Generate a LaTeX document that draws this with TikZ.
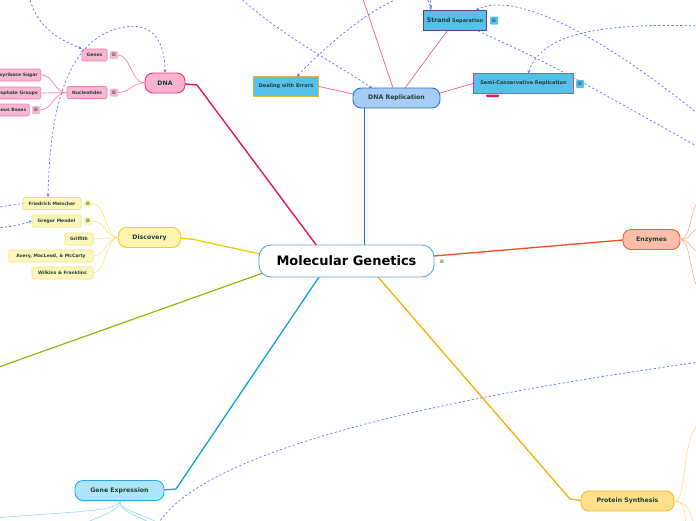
\documentclass[tikz,border=0pt]{standalone}
\usepackage{fontspec}
\setmainfont{DejaVu Sans}
\usetikzlibrary{arrows.meta}
\definecolor{tcol}{HTML}{1D3F33}
\definecolor{dnafill}{HTML}{F9B3D1}
\definecolor{dnadraw}{HTML}{E8336F}
\definecolor{dnaline}{HTML}{E5106A}
\definecolor{psubfill}{HTML}{FBB6D3}
\definecolor{psubdraw}{HTML}{F27FAE}
\definecolor{plight}{HTML}{F585B5}
\definecolor{repfill}{HTML}{A8CCF8}
\definecolor{repdraw}{HTML}{2A6FD6}
\definecolor{repline}{HTML}{1A6ED8}
\definecolor{cyanfill}{HTML}{56BFEA}
\definecolor{golddraw}{HTML}{D9B93B}
\definecolor{purpdraw}{HTML}{5B3C8F}
\definecolor{magdraw}{HTML}{D9428E}
\definecolor{repchild}{HTML}{EE5A92}
\definecolor{yfill}{HTML}{FFF5B0}
\definecolor{ydraw}{HTML}{F0D020}
\definecolor{yline}{HTML}{E8D000}
\definecolor{ysubfill}{HTML}{FFF6BC}
\definecolor{ysubdraw}{HTML}{F7E27F}
\definecolor{ylight}{HTML}{F9E98C}
\definecolor{efill}{HTML}{F9BFA8}
\definecolor{edraw}{HTML}{F06030}
\definecolor{eline}{HTML}{F05020}
\definecolor{elight}{HTML}{F9AE92}
\definecolor{gfill}{HTML}{B0E4F8}
\definecolor{gdraw}{HTML}{29ABE2}
\definecolor{gline}{HTML}{10A0E0}
\definecolor{glight}{HTML}{9FDCF5}
\definecolor{prfill}{HTML}{FEE08B}
\definecolor{prdraw}{HTML}{F6B820}
\definecolor{prline}{HTML}{F6B000}
\definecolor{prlight}{HTML}{FFDB8A}
\definecolor{grline}{HTML}{8DBA10}
\definecolor{centdraw}{HTML}{5AA5DD}
\definecolor{dashcol}{HTML}{5A78F0}
\begin{document}
\begin{tikzpicture}[x=1pt,y=-1pt,
  mainnode/.style={text=tcol, font=\bfseries\fontsize{6.2}{7}\selectfont, rounded corners=8pt, line width=0.9pt, inner sep=0pt, minimum height=20pt},
  subnode/.style={text=tcol, font=\bfseries\fontsize{4.5}{5}\selectfont, rounded corners=1.2pt, line width=0.6pt, inner xsep=3pt, inner ysep=0pt, minimum height=12pt},
  pinksub/.style={subnode, fill=psubfill, draw=psubdraw},
  yelsub/.style={subnode, fill=ysubfill, draw=ysubdraw},
  cyanbox/.style={text=tcol, font=\bfseries\fontsize{5}{5.5}\selectfont, fill=cyanfill, line width=1pt, inner sep=0pt, minimum height=20pt},
  menuicon/.style={fill=#1, rounded corners=1pt, minimum size=8pt, inner sep=0pt, text=tcol, font=\fontsize{6}{6}\selectfont},
  dashlink/.style={dashcol, line width=0.7pt, dash pattern=on 2.2pt off 2.2pt},
  tipd/.style={-{Stealth[length=3pt,width=3pt]}},
  tipb/.style={{Stealth[length=3pt,width=3pt]}-{Stealth[length=3pt,width=3pt]}},
]
\useasboundingbox (0,0) rectangle (696,520);
\clip (0,0) rectangle (696,520);
\fill[white] (0,0) rectangle (696,520);

% ---------- coordinates for free ends ----------
\coordinate (mgDNA) at (317,246);
\coordinate (dnaBend) at (197,85);
\coordinate (mgRep) at (364.5,246);
\coordinate (mgDisc) at (260,254);
\coordinate (discBend) at (194,239.5);
\coordinate (mgGreen) at (263,273);
\coordinate (offGreen) at (-4,368);
\coordinate (mgGene) at (319,277);
\coordinate (geneBend) at (176,489);
\coordinate (mgProt) at (378,277);
\coordinate (protBend) at (570,499);
\coordinate (mgEnz) at (434,256);
\coordinate (offPink) at (362,-4);
\coordinate (strandBR) at (478,31);
\coordinate (offR2) at (700,148);

% ---------- main connectors (drawn first) ----------
\draw[dnaline, line width=1.4pt, line join=round] (mgDNA) -- (dnaBend) -- (185,84);
\draw[repline, line width=1.3pt] (mgRep) -- (364.5,108);
\draw[yline, line width=1.3pt, line join=round] (mgDisc) -- (discBend) -- (180.5,238);
\draw[grline, line width=1.2pt] (mgGreen) -- (offGreen);
\draw[gline, line width=1.3pt, line join=round] (mgGene) -- (geneBend) -- (164,490);
\draw[prline, line width=1.3pt, line join=round] (mgProt) -- (protBend) -- (581,500.5);
\draw[eline, line width=1.3pt] (mgEnz) -- (623,240);

% dashed link that passes behind the Semi-Conservative box
\draw[dashlink] (strandBR) .. controls (550,64) .. (offR2);

% ---------- central ----------
\node[draw=centdraw, fill=white, line width=0.9pt, rounded corners=12pt, minimum width=175pt, minimum height=32pt, inner sep=0pt, text=black, font=\bfseries\fontsize{13}{14}\selectfont] (MG) at (346.5,261) {Molecular Genetics};
\node[text=black!70, font=\fontsize{6}{6}\selectfont, inner sep=0pt] (MGicon) at (442,262) {≡};

% ---------- DNA ----------
\node[mainnode, fill=dnafill, draw=dnadraw, minimum width=40pt] (DNA) at (165,83) {DNA};
\node[pinksub, minimum width=25pt] (Genes) at (94.5,55) {Genes};
\node[menuicon=psubfill] (GenesI) at (114,55) {≡};
\node[pinksub, minimum width=40pt] (Nucl) at (87,92.5) {Nucleotides};
\node[menuicon=psubfill] (NuclI) at (114,92.5) {≡};
\node[pinksub, anchor=east] (Deoxy) at (41,75) {Deoxyribose Sugar};
\node[pinksub, anchor=east] (Phos) at (41,93) {Phosphate Groups};
\node[pinksub, anchor=east] (Nitro) at (29.5,110) {Nitrogenous Bases};
\node[menuicon=psubfill] (NitroI) at (36,110) {≡};

\draw[plight, line width=0.7pt] (DNA.west) .. controls (132,83) and (130,55) .. (GenesI.east);
\draw[plight, line width=0.7pt] (DNA.west) .. controls (132,83) and (130,92.5) .. (NuclI.east);
\draw[plight, line width=0.7pt] (Nucl.west) .. controls (54,92.5) and (54,75) .. (Deoxy.east);
\draw[plight, line width=0.7pt] (Nucl.west) .. controls (54,92.5) and (54,93) .. (Phos.east);
\draw[plight, line width=0.7pt] (Nucl.west) .. controls (54,92.5) and (52,110) .. (NitroI.east);

% ---------- DNA Replication ----------
\node[mainnode, fill=repfill, draw=repdraw, minimum width=87pt] (Rep) at (396.5,98) {DNA Replication};
\node[cyanbox, draw=golddraw, minimum width=65pt] (Err) at (286,86.5) {Dealing with Errors};
\node[cyanbox, draw=purpdraw, minimum width=63pt] (Strand) at (455,20.5) {{\fontsize{6.2}{6}\selectfont Strand} Separation};
\node[menuicon=cyanfill] (StrandI) at (494,20.5) {≡};
\node[cyanbox, draw=magdraw, minimum width=100pt] (Semi) at (523.5,83.5) {Semi-Conservative Replication};
\node[menuicon=cyanfill] (SemiI) at (580,84) {≡};
\fill[dnaline, rounded corners=1pt] (486,94.5) rectangle (499,97) coordinate (semiMark);

\draw[repchild, line width=0.7pt] (Err.east) -- (353,94);
\draw[repchild, line width=0.7pt] (447,31) -- (405,88);
\draw[repchild, line width=0.7pt] (440,93) -- (Semi.west);
\draw[repchild, line width=0.7pt] (offPink) -- (393,88);

% ---------- Discovery ----------
\node[mainnode, fill=yfill, draw=ydraw, minimum width=62pt] (Disc) at (149.5,237.5) {Discovery};
\node[yelsub, minimum width=58pt] (Fried) at (52,203.5) {Friedrich Meischer};
\node[menuicon=ysubfill] (FriedI) at (88,203.5) {≡};
\node[yelsub, minimum width=49pt] (Mendel) at (56.5,221) {Gregor Mendel};
\node[menuicon=ysubfill] (MendelI) at (88,221) {≡};
\node[yelsub, minimum width=28pt] (Griff) at (79,239) {Griffith};
\node[yelsub, minimum width=84pt] (Avery) at (51,256) {Avery, MacLeod, \& McCarty};
\node[yelsub, minimum width=61pt] (Wilk) at (62.5,273) {Wilkins \& Franklins};

\foreach \n in {FriedI,MendelI,Griff,Avery,Wilk}
  \draw[ylight, line width=0.7pt] (Disc.west) .. controls (106,238) and (106,0|-\n.east) .. (\n.east);

% ---------- Enzymes ----------
\node[mainnode, fill=efill, draw=edraw, minimum width=57pt] (Enz) at (651.5,239.5) {Enzymes};
\foreach \yy in {200,228,252,290}
  \draw[elight, line width=0.6pt] (Enz.east) .. controls (692,240) and (690,\yy) .. (702,\yy);

% ---------- Gene Expression ----------
\node[mainnode, fill=gfill, draw=gdraw, minimum width=89pt] (Gene) at (119.5,490.5) {Gene Expression};
\draw[glight, line width=0.7pt] (Gene.south) .. controls (120,512) and (60,512) .. (-4,518);
\draw[glight, line width=0.7pt] (Gene.south) .. controls (120,512) and (100,515) .. (84,524);
\draw[glight, line width=0.7pt] (Gene.south) .. controls (120,512) and (135,514) .. (152,524);
\draw[glight, line width=0.7pt] (Gene.south) .. controls (122,512) and (140,512) .. (160,524);

% ---------- Protein Synthesis ----------
\node[mainnode, fill=prfill, draw=prdraw, minimum width=93pt] (Prot) at (627.5,501) {Protein Synthesis};
\draw[prlight, line width=0.6pt] (Prot.east) .. controls (688,500) and (680,440) .. (700,422);
\draw[prlight, line width=0.6pt] (Prot.east) .. controls (686,502) and (684,512) .. (686,524);
\draw[prlight, line width=0.6pt] (Prot.east) .. controls (688,502) and (690,512) .. (694,524);

% ---------- dashed relationship links ----------
\coordinate (offA) at (29,-4);
\coordinate (offL1) at (-4,207.5);
\coordinate (offL2) at (-4,228);
\coordinate (offRep) at (236,-6);
\coordinate (offR1) at (698,114);
\coordinate (offR3) at (700,26);
\coordinate (offStr) at (430,-4);
\coordinate (offBot) at (158,524);
\coordinate (offBotR) at (700,362);

\draw[dashlink, tipd] (offA) .. controls (36,25) and (55,38) .. (Genes.north west);
\draw[dashlink, tipb] (48,197) .. controls (50,90) and (75,35) .. (125,27) .. controls (155,22) and (165,45) .. (DNA.north);
\draw[dashlink] (offL1) -- (Fried.west);
\draw[dashlink, tipd] (offL2) .. controls (10,227) and (20,225) .. (Mendel.west);
\draw[dashlink, tipd] (offRep) .. controls (280,35) and (330,60) .. (372,88);
\draw[dashlink, tipb] (297,76.5) .. controls (350,20) and (425,-30) .. (431,10);
\draw[dashlink, tipd] (offStr) -- (431,8);
\draw[dashlink, tipd] (offR1) .. controls (620,50) and (520,-12) .. (476,10);
\draw[dashlink, tipd] (offR3) .. controls (580,22) and (540,40) .. (528,73.5);
\draw[dashlink] (offBot) .. controls (210,440) and (500,390) .. (offBotR);
\end{tikzpicture}
\end{document}
